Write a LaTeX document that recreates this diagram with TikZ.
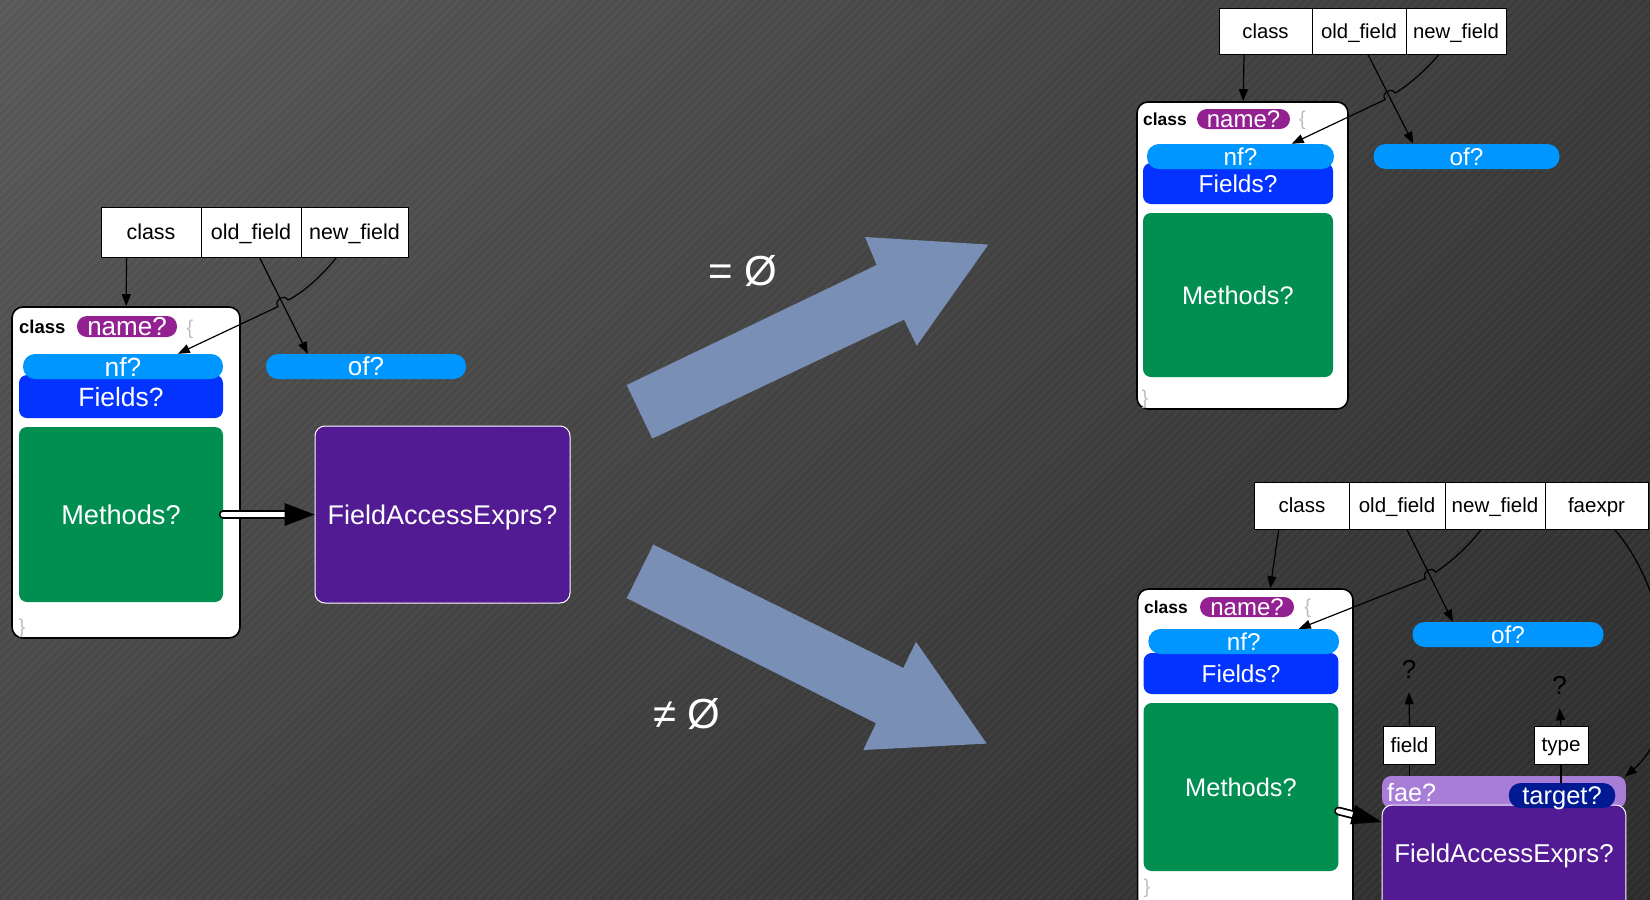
\documentclass[tikz,border=0pt]{standalone}
\usepackage{fontspec}
\setmainfont{Liberation Sans}
\usetikzlibrary{arrows.meta,calc,shadings}

\definecolor{bgUL}{RGB}{88,88,88}
\definecolor{bgUR}{RGB}{58,58,58}
\definecolor{bgLL}{RGB}{68,68,68}
\definecolor{bgLR}{RGB}{44,44,44}
\definecolor{bigarrow}{RGB}{122,143,182}
\definecolor{namepurple}{RGB}{148,33,146}
\definecolor{sky}{RGB}{0,150,255}
\definecolor{fieldblue}{RGB}{4,51,255}
\definecolor{methgreen}{RGB}{0,143,81}
\definecolor{faepurple}{RGB}{83,27,147}
\definecolor{faelight}{RGB}{168,125,216}
\definecolor{navy}{RGB}{1,25,147}
\definecolor{bracegrey}{RGB}{190,190,190}

\newcommand{\fsz}[1]{\fontsize{#1}{#1}\selectfont}
% thick hollow arrow: #1 tail, #2 tip, #3 head length, #4 head half width, #5 prefix
\newcommand{\fatlink}[5]{%
  \coordinate (#5b) at ($(#2)!#3!(#1)$);
  \draw[hollow] (#1) -- (#5b);
  \fill[black] (#2) -- ($(#5b)!#4!90:(#2)$) -- ($(#5b)!#4!-90:(#2)$) -- cycle;
}

\begin{document}
\begin{tikzpicture}[x=1pt,y=-1pt,
  cell/.style={draw=black, fill=white, line width=1pt, inner sep=0pt, text=black, text depth=0pt, font=\fsz{#1}},
  classbox/.style={draw=black, fill=white, line width=1.6pt, rounded corners=11pt, inner sep=0pt},
  kw/.style={font=\bfseries\fsz{#1}, text=black, inner sep=0pt, anchor=base west},
  brace/.style={font=\fsz{20}, text=bracegrey, inner sep=0pt},
  pill/.style={fill=#1, rounded corners=12pt, inner sep=0pt, text=white, text depth=0pt},
  panel/.style={fill=#1, rounded corners=8pt, inner sep=0pt, text=white, text depth=0pt},
  faebox/.style={fill=faepurple, draw=white, line width=1pt, rounded corners=10pt, inner sep=0pt, text=white, text depth=0pt},
  qmark/.style={font=\fsz{26}, text=black, inner sep=0pt, text depth=0pt},
  link/.style={draw=black, line width=1.2pt, -{Triangle[length=12pt,width=9pt]}},
  wire/.style={draw=black, line width=1.2pt},
  hollow/.style={draw=black, double=white, double distance=5.2pt, line width=1.8pt, line cap=round},
  verdict/.style={font=\fsz{42}, text=white, inner sep=0pt, anchor=base west}
]
\useasboundingbox (0,0) rectangle (1650,900);
\clip (0,0) rectangle (1650,900);

% background: graded dark grey with fine diagonal stripes
\shade[shading=bilinear interpolation, upper left=bgUL, upper right=bgUR, lower left=bgLL, lower right=bgLR] (0,0) rectangle (1650,900);
\foreach \k in {0,8.5,...,2550} {
  \draw[white, opacity=0.035, line width=2.5pt] (\k,0) -- ({\k-900},900);
}

% the two outcome arrows
\fill[bigarrow] (652.3,438.6) -- (626.7,385) -- (876.7,265) -- (865,237) -- (988.3,244.6) -- (916.7,345.7) -- (904,319.6) -- cycle;
\fill[bigarrow] (653.3,544.6) -- (626.7,598.2) -- (876,723.2) -- (863.3,750) -- (986.7,743.6) -- (916,641.8) -- (903.3,667.9) -- cycle;
\node[verdict] (isempty) at (708,285) {= Ø};
\node[verdict] (notempty) at (653,728) {≠ Ø};

% ---------- left: the query pattern ----------
\node[cell=21.5, minimum width=100pt, minimum height=50pt] (hL1) at (151,232) {class};
\node[cell=21.5, minimum width=100pt, minimum height=50pt] (hL2) at (251,232) {old\_field};
\node[cell=21.5, minimum width=107pt, minimum height=50pt] (hL3) at (354.5,232) {new\_field};

\node[classbox, minimum width=228pt, minimum height=331pt] (clsL) at (126,472.5) {};
\node[kw=18.5] (kwL) at (19,333) {class};
\node[pill=namepurple, rounded corners=10pt, minimum width=100pt, minimum height=21pt, font=\fsz{26}] (nmL) at (127,326.5) {name?};
\node[brace] (obL) at (190,329) {\{};
\node[panel=fieldblue, minimum width=204pt, minimum height=43pt, font=\fsz{26.4}] (fdL) at (121,396.5) {Fields?};
\node[pill=sky, minimum width=200pt, minimum height=25pt, font=\fsz{26.4}] (nfL) at (123,366.5) {nf?};
\node[panel=methgreen, minimum width=204pt, minimum height=175pt, font=\fsz{27.2}] (mtL) at (121,514.5) {Methods?};
\node[brace] (cbL) at (22,628) {\}};
\node[pill=sky, minimum width=200pt, minimum height=25pt, font=\fsz{26}] (ofL) at (366,366.5) {of?};
\node[faebox, minimum width=255pt, minimum height=177pt, font=\fsz{27}] (faL) at (442.5,514.5) {FieldAccessExprs?};

\draw[link] ($(hL1.south west)+(26,0)$) -- ($(clsL.north west)+(115,0)$);
\draw[link] ($(hL2.south west)+(59,0)$) -- ($(ofL.north west)+(42,0)$);
\draw[link] ($(hL3.south west)+(36,0)$) .. controls (325,272) and (305,292) .. (288,300)
  .. controls (283.6,293.4) and (273.6,300) .. (278,306.6) -- ($(nfL.north west)+(155,0)$);

\coordinate (tailL) at (mtL.east);
\coordinate (tipL) at (faL.west);
\fatlink{tailL}{tipL}{30pt}{11.5pt}{hdL}

% ---------- top right: no field accesses ----------
\node[cell=20.3, minimum width=93pt, minimum height=46pt] (hR1) at (1265.5,31) {class};
\node[cell=20.3, minimum width=94pt, minimum height=46pt] (hR2) at (1359,31) {old\_field};
\node[cell=20.3, minimum width=100pt, minimum height=46pt] (hR3) at (1456,31) {new\_field};

\node[classbox, minimum width=211pt, minimum height=307pt] (clsR) at (1242.5,255.5) {};
\node[kw=17.4] (kwR) at (1143,125) {class};
\node[pill=namepurple, rounded corners=10pt, minimum width=93pt, minimum height=20pt, font=\fsz{24}] (nmR) at (1243.5,119) {name?};
\node[brace] (obR) at (1302.5,120) {\{};
\node[panel=fieldblue, minimum width=190pt, minimum height=41pt, font=\fsz{24.4}] (fdR) at (1238,183.5) {Fields?};
\node[pill=sky, minimum width=187pt, minimum height=25pt, font=\fsz{24.3}] (nfR) at (1240.4,156.5) {nf?};
\node[panel=methgreen, minimum width=190pt, minimum height=164pt, font=\fsz{25.4}] (mtR) at (1238,295) {Methods?};
\node[brace] (cbR) at (1145,399) {\}};
\node[pill=sky, minimum width=186pt, minimum height=25pt, font=\fsz{24.3}] (ofR) at (1466.5,156.5) {of?};

\draw[link] ($(hR1.south west)+(25.5,0)$) -- ($(clsR.north west)+(107,0)$);
\draw[link] ($(hR2.south west)+(56.5,0)$) -- ($(ofR.north west)+(40,0)$);
\draw[link] ($(hR3.south west)+(33.5,0)$) .. controls (1426,70) and (1409,85) .. (1395,93)
  .. controls (1390.6,86.4) and (1380.6,93) .. (1385,99.6) -- ($(nfR.north west)+(145,0)$);

% ---------- bottom right: with field accesses ----------
\node[cell=20.5, minimum width=94.5pt, minimum height=47pt] (hB1) at (1302,505.5) {class};
\node[cell=20.5, minimum width=96pt, minimum height=47pt] (hB2) at (1397,505.5) {old\_field};
\node[cell=20.5, minimum width=100pt, minimum height=47pt] (hB3) at (1495,505.5) {new\_field};
\node[cell=20.5, minimum width=103pt, minimum height=47pt] (hB4) at (1596.5,505.5) {faexpr};

\node[classbox, minimum width=215.4pt, minimum height=342pt] (clsB) at (1245.3,760) {};
\node[kw=17.4] (kwB) at (1144,613) {class};
\node[pill=namepurple, rounded corners=10pt, minimum width=94pt, minimum height=20pt, font=\fsz{24}] (nmB) at (1247,607) {name?};
\node[brace] (obB) at (1307.6,608) {\{};
\node[panel=fieldblue, minimum width=194.7pt, minimum height=41pt, font=\fsz{24.4}] (fdB) at (1241,673.5) {Fields?};
\node[pill=sky, minimum width=190.6pt, minimum height=25pt, font=\fsz{24.3}] (nfB) at (1243.7,641.5) {nf?};
\node[panel=methgreen, minimum width=194.7pt, minimum height=168pt, font=\fsz{25.4}] (mtB) at (1241,787) {Methods?};
\node[brace] (cbB) at (1147,888) {\}};
\node[pill=sky, minimum width=191pt, minimum height=25pt, font=\fsz{24.3}] (ofB) at (1508,634.5) {of?};

\node[cell=20.6, minimum width=51.7pt, minimum height=38pt] (fieldB) at (1409.5,745) {field};
\node[cell=20.6, minimum width=54pt, minimum height=38pt] (typeB) at (1561,745) {type};
\node[qmark] (qField) at (1409,669) {?};
\node[qmark] (qType) at (1559.5,685) {?};

\node[fill=faelight, rounded corners=9pt, minimum height=32pt, text width=233.7pt, inner xsep=5pt, inner ysep=0pt,
      align=left, text=white, font=\fsz{25.2}, text depth=0pt] (faeTop) at (1504,792) {fae?};
\node[faebox, minimum width=243.7pt, minimum height=120pt, font=\fsz{25.8}, text depth=23pt] (faB) at (1504,865) {FieldAccessExprs?};
\node[pill=navy, minimum width=106.5pt, minimum height=25pt, font=\fsz{25.5}] (tgB) at (1562,795.5) {target?};

\draw[link] ($(hB1.south west)+(24.5,0)$) -- ($(clsB.north west)+(133.4,0)$);
\draw[link] ($(hB2.south west)+(58.4,0)$) -- ($(ofB.north west)+(40.6,0)$);
\draw[link] ($(hB3.south west)+(36.7,0)$) .. controls (1469,546) and (1450,563) .. (1435.5,572)
  .. controls (1431.1,565.4) and (1421.1,572) .. (1425.5,578.6) -- ($(nfB.north west)+(150.6,0)$);
\draw[link] ($(hB4.south west)+(70,0)$) .. controls (1668,590) and (1690,720) .. ($(faeTop.north east)+(-1,1)$);

\draw[link] (fieldB.north) -- ($(qField.south)+(0,14)$);
\draw[link] (typeB.north) -- ($(qType.south)+(0,14)$);
\draw[wire] (faeTop.north -| fieldB.south) -- (fieldB.south);
\draw[wire] (tgB.north -| typeB.south) -- (typeB.south);

\coordinate (tailB) at ($(mtB.east)+(0,24)$);
\coordinate (tipB) at ($(faB.west)+(0,-43)$);
\fatlink{tailB}{tipB}{30pt}{10pt}{hdB}
\end{tikzpicture}
\end{document}
